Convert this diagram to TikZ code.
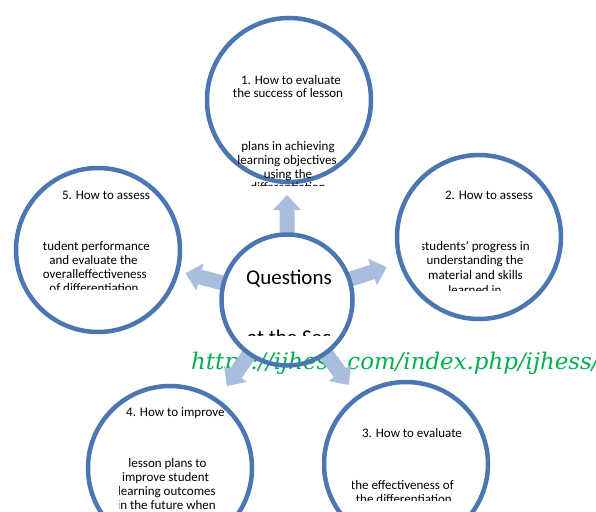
\documentclass[tikz,border=0pt]{standalone}
\usepackage{fontspec}
\setmainfont{Carlito}
\newfontfamily\wmfont{DejaVu Serif}
\usetikzlibrary{calc}
\definecolor{ringblue}{HTML}{4A76B2}
\definecolor{arrowblue}{HTML}{A9BEDD}
\definecolor{wmgreen}{HTML}{00B050}
\tikzset{
  ring/.style={circle, draw=ringblue, line width=4.5pt, inner sep=0pt, outer sep=0pt},
  sat/.style={ring, minimum size=164pt},
  ln/.style={font=\fontsize{13}{14}\selectfont, inner sep=0pt, anchor=base},
  lnE/.style={ln, anchor=base east},
  lnW/.style={ln, anchor=base west},
  blockarr/.style={fill=arrowblue, draw=none},
}
\newcommand{\blockarrow}[1]{%
  \begin{scope}[shift={(ctr)}, rotate=#1]
    \fill[blockarr] (66,-7.5) -- (90,-7.5) -- (90,-14) -- (105,0) -- (90,14) -- (90,7.5) -- (66,7.5) -- cycle;
  \end{scope}}
\begin{document}
\begin{tikzpicture}[x=1pt,y=-1pt]
\useasboundingbox (0,0) rectangle (596,511);
\clip (0,0) rectangle (596,511);
\fill[white] (0,0) rectangle (596,511);
% watermark
\node[font=\wmfont\itshape\fontsize{22.9}{23}\selectfont, text=wmgreen, anchor=base west, inner sep=0pt] (wm) at (191,369) {https://ijhess.com/index.php/ijhess/};
% arrows
\coordinate (ctr) at (287,300);
\blockarrow{90}
\blockarrow{165.2}
\blockarrow{18.2}
\blockarrow{-124.9}
\blockarrow{-54}
% circles
\node[ring, minimum size=131pt] (c0) at (287,300) {};
\node[sat] (c1) at (289,100) {};
\node[sat] (c2) at (479,237) {};
\node[sat] (c3) at (406,464) {};
\node[sat] (c4) at (170,468) {};
\node[sat] (c5) at (98,250) {};
% texts circle 1
\begin{scope}
  \clip (200,60) rectangle (380,185);
  \node[ln] (t1a) at (291,84.5) {1. How to evaluate};
  \node[ln] (t1b) at (288,97.5) {the success of lesson};
  \node[ln] (t1c) at (288,150.5) {plans in achieving};
  \node[ln] (t1d) at (287,164) {learning objectives};
  \node[ln] (t1e) at (288,178) {using the};
  \node[ln] (t1f) at (288,191.5) {differentiation};
\end{scope}
% circle 5
\begin{scope}
  \clip (43,180) rectangle (170,289);
  \node[ln] (t5a) at (106,199.5) {5. How to assess};
  \node[lnE] (t5b) at (150,250) {student performance};
  \node[ln] (t5c) at (93.5,264) {and evaluate the};
  \node[lnE] (t5d) at (147,278) {overalleffectiveness};
  \node[ln] (t5e) at (94,292.5) {of differentiation};
\end{scope}
% circle 2
\begin{scope}
  \clip (422,180) rectangle (560,290);
  \node[ln] (t2a) at (489,199.5) {2. How to assess};
  \node[lnE] (t2b) at (530,250) {students' progress in};
  \node[ln] (t2c) at (475,264) {understanding the};
  \node[ln] (t2d) at (475.5,279) {material and skills};
  \node[ln] (t2e) at (475,294) {learned in};
\end{scope}
% circle 4
\begin{scope}
  \clip (119,395) rectangle (223,511);
  \node[lnW] (t4a) at (126,416) {4. How to improve};
  \node[ln] (t4b) at (167.5,467) {lesson plans to};
  \node[ln] (t4c) at (165.5,481) {improve student};
  \node[lnE] (t4d) at (216,495) {learning outcomes};
  \node[lnE] (t4e) at (216,509) {in the future when};
\end{scope}
% circle 3
\begin{scope}
  \clip (352,415) rectangle (480,500);
  \node[ln] (t3a) at (412,437) {3. How to evaluate};
  \node[lnE] (t3b) at (454,489) {the effectiveness of};
  \node[lnE] (t3c) at (452,503.5) {the differentiation};
\end{scope}
% centre
\begin{scope}
  \clip (230,250) rectangle (340,335.5);
  \node[font=\fontsize{21}{22}\selectfont, inner sep=0pt, anchor=base] (q1) at (289,284) {Questions};
  \node[font=\fontsize{21}{22}\selectfont, inner sep=0pt, anchor=base west] (q2) at (247,344) {at the Sec};
\end{scope}
\end{tikzpicture}
\end{document}
